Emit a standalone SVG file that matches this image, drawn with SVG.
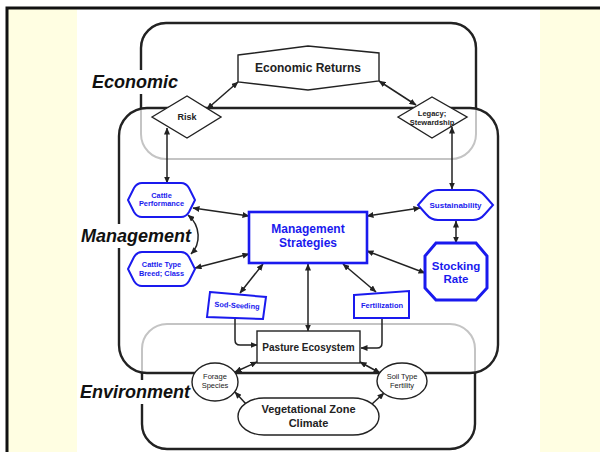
<svg xmlns="http://www.w3.org/2000/svg" width="600" height="452" viewBox="0 0 600 452">
  <style>
    text { font-family: "Liberation Sans", Arial, sans-serif; }
    .zone { font-size: 18px; font-weight: bold; font-style: italic; fill: #111; }
    .box { fill: none; stroke: #222; stroke-width: 2.4; }
    .faint { fill: none; stroke: #c4c4c4; stroke-width: 2; }
    .blk { fill: #fff; stroke: #222; stroke-width: 1.4; }
    .blue { fill: #fff; stroke: #1a1aee; stroke-width: 2; }
    .bt { fill: #1a1aee; font-weight: bold; text-anchor: middle; }
    .kt { fill: #222; font-weight: bold; text-anchor: middle; }
    .rt { fill: #222; text-anchor: middle; }
    .link { fill: none; stroke: #222; stroke-width: 1.5; }
    .two { marker-start: url(#head); marker-end: url(#head); }
    .one { marker-end: url(#head); }
  </style>
  <defs>
    <marker id="head" markerUnits="userSpaceOnUse" markerWidth="7" markerHeight="6" refX="6.5" refY="3" orient="auto-start-reverse">
      <path d="M0,0 L7,3 L0,6 Z" fill="#222"/>
    </marker>
    <clipPath id="aboveMgmt"><rect x="0" y="0" width="600" height="108"/></clipPath>
    <clipPath id="belowMgmt"><rect x="0" y="373" width="600" height="80"/></clipPath>
  </defs>

  <!-- page background and frame -->
  <rect x="0" y="0" width="600" height="452" fill="#fff"/>
  <rect x="8" y="9" width="69" height="443" fill="#fffee2"/>
  <rect x="540" y="9" width="60" height="443" fill="#fffee2"/>
  <path d="M7,452 V8 H600" fill="none" stroke="#111" stroke-width="3"/>

  <!-- realm outlines -->
  <g id="economic-realm">
    <rect class="faint" x="141" y="23" width="335" height="136" rx="25"/>
    <rect class="box" x="141" y="23" width="335" height="136" rx="25" clip-path="url(#aboveMgmt)"/>
  </g>
  <g id="environment-realm">
    <rect class="faint" x="142" y="324" width="333" height="125" rx="25"/>
    <rect class="box" x="142" y="324" width="333" height="125" rx="25" clip-path="url(#belowMgmt)"/>
  </g>
  <g id="management-realm">
    <rect class="box" x="119" y="108" width="379" height="265" rx="28"/>
  </g>

  <!-- realm labels -->
  <g id="realm-labels">
    <rect x="89" y="70" width="92" height="24" fill="#fff"/>
    <text class="zone" x="92" y="88">Economic</text>
    <rect x="79" y="224" width="114" height="24" fill="#fff"/>
    <text class="zone" x="81" y="242">Management</text>
    <rect x="78" y="380" width="114" height="24" fill="#fff"/>
    <text class="zone" x="80" y="398">Environment</text>
  </g>

  <!-- connectors -->
  <g id="connectors">
    <line class="link two" x1="238" y1="82" x2="207" y2="109"/>
    <line class="link two" x1="379" y1="81" x2="416" y2="105"/>
    <line class="link two" x1="167" y1="128" x2="167" y2="183"/>
    <line class="link two" x1="193" y1="208" x2="249" y2="216"/>
    <line class="link two" x1="195" y1="268" x2="249" y2="254"/>
    <path class="link two" d="M188,215 C201,226 201,244 191,254"/>
    <line class="link two" x1="452" y1="127" x2="452" y2="189"/>
    <line class="link two" x1="456" y1="221" x2="456" y2="243"/>
    <line class="link two" x1="367" y1="216" x2="420" y2="208"/>
    <line class="link two" x1="367" y1="251" x2="425" y2="273"/>
    <line class="link two" x1="263" y1="264" x2="240" y2="293"/>
    <line class="link two" x1="308" y1="264" x2="308" y2="331"/>
    <line class="link two" x1="343" y1="264" x2="376" y2="292"/>
    <path class="link one" d="M235,318 V340 Q235,345 240,345 H257"/>
    <path class="link one" d="M382,318 V343 Q382,348 377,348 H361"/>
    <line class="link two" x1="235" y1="372" x2="257" y2="362"/>
    <line class="link two" x1="380" y1="373" x2="360" y2="362"/>
    <line class="link one" x1="246" y1="404" x2="235" y2="392"/>
    <line class="link one" x1="372" y1="404" x2="384" y2="393"/>
  </g>

  <!-- economic nodes -->
  <g id="economic-returns">
    <path class="blk" d="M238,55 L308,46 L379,53 L379,81 L308,90 L238,82 Z"/>
    <text class="kt" x="308" y="72" font-size="12">Economic Returns</text>
  </g>
  <g id="risk">
    <path class="blk" d="M152,117 L187,96 L221,117 L187,138 Z"/>
    <text class="kt" x="187" y="120" font-size="9">Risk</text>
  </g>
  <g id="legacy">
    <path class="blk" d="M398,117 L432,97 L467,117 L432,138 Z"/>
    <text class="kt" x="432" y="116" font-size="7.5">Legacy;</text>
    <text class="kt" x="432" y="125" font-size="7.5">Stewardship</text>
  </g>

  <!-- management nodes -->
  <g id="cattle-performance">
    <path class="blue" d="M142,183 H181 Q186,183 189,188 L195,200 L189,212 Q186,217 181,217 H142 Q137,217 134,212 L128,200 L134,188 Q137,183 142,183 Z"/>
    <text class="bt" x="161.5" y="198" font-size="7.4">Cattle</text>
    <text class="bt" x="161.5" y="206" font-size="7.4">Performance</text>
  </g>
  <g id="cattle-type">
    <path class="blue" d="M142,252 H181 Q186,252 189,257 L195,269 L189,281 Q186,286 181,286 H142 Q137,286 134,281 L128,269 L134,257 Q137,252 142,252 Z"/>
    <text class="bt" x="161.5" y="267" font-size="7.4">Cattle Type</text>
    <text class="bt" x="161.5" y="276" font-size="7.4">Breed; Class</text>
  </g>
  <g id="management-strategies">
    <rect x="249" y="212" width="118" height="51" fill="#fff" stroke="#1a1aee" stroke-width="2.6"/>
    <text class="bt" x="308" y="233" font-size="12">Management</text>
    <text class="bt" x="308" y="247" font-size="12">Strategies</text>
  </g>
  <g id="sustainability">
    <path class="blue" d="M438,190 H473 Q480,190 485,196 L493,205 L485,214 Q480,220 473,220 H438 Q431,220 426,214 L418,205 L426,196 Q431,190 438,190 Z"/>
    <text class="bt" x="455.5" y="208" font-size="8">Sustainability</text>
  </g>
  <g id="stocking-rate">
    <path d="M436,243 H476 L487,256 V288 L476,300 H436 L425,288 V256 Z" fill="#fff" stroke="#1a1aee" stroke-width="3"/>
    <text class="bt" x="456" y="270" font-size="11.5">Stocking</text>
    <text class="bt" x="456" y="283" font-size="11.5">Rate</text>
  </g>
  <g id="sod-seeding">
    <path class="blue" d="M210,292 L266,297 L263,319 L207,317 Z"/>
    <text class="bt" x="237" y="308" font-size="7.4" transform="rotate(3 237 306)">Sod-Seeding</text>
  </g>
  <g id="fertilization">
    <path class="blue" d="M354,295 L409,291 L409,318 L354,318 Z"/>
    <text class="bt" x="382" y="308" font-size="7.5">Fertilization</text>
  </g>

  <!-- environment nodes -->
  <g id="pasture-ecosystem">
    <rect class="blk" x="257" y="331" width="103" height="32" stroke-width="1.8"/>
    <text class="kt" x="308.5" y="351" font-size="10">Pasture Ecosystem</text>
  </g>
  <g id="forage-species">
    <ellipse class="blk" cx="215" cy="382" rx="23" ry="19"/>
    <text class="rt" x="215" y="379" font-size="7.5">Forage</text>
    <text class="rt" x="215" y="388" font-size="7.5">Species</text>
  </g>
  <g id="soil-type">
    <ellipse class="blk" cx="402" cy="381" rx="25" ry="18"/>
    <text class="rt" x="402" y="379" font-size="7.5">Soil Type</text>
    <text class="rt" x="402" y="388" font-size="7.5">Fertility</text>
  </g>
  <g id="vegetational-zone">
    <rect class="blk" x="238" y="398" width="141" height="37" rx="26" ry="18.5"/>
    <text class="kt" x="308.5" y="413" font-size="11">Vegetational Zone</text>
    <text class="kt" x="308.5" y="427" font-size="11">Climate</text>
  </g>
</svg>
